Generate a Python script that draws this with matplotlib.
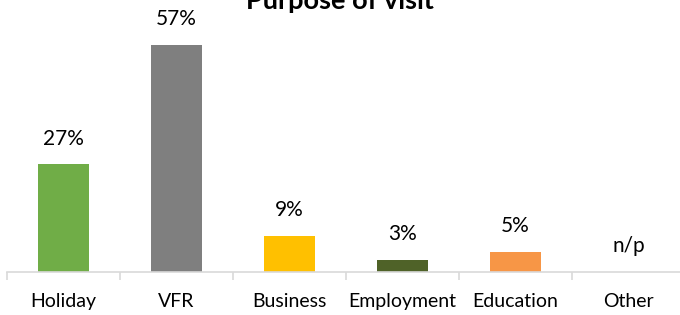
import matplotlib.pyplot as plt
import numpy as np

categories = ["Holiday", "VFR", "Business", "Employment", "Education", "Other"]
values = [27, 57, 9, 3, 5, 0]
labels = ["27%", "57%", "9%", "3%", "5%", "n/p"]
colors = ["#70AD47", "#7F7F7F", "#FFC000", "#4F6228", "#F79646", "#FFFFFF"]

plt.rcParams['font.family'] = ['Lato', 'DejaVu Sans']

fig = plt.figure(figsize=(6.8, 3.15), dpi=100)
ax = fig.add_axes([7 / 680, 43 / 315, 678 / 680, 239 / 315])

x = np.arange(len(categories))
ax.bar(x, values, width=0.46, color=colors)
for xi, v, lab in zip(x, values, labels):
    ax.annotate(lab, (xi, v), xytext=(0, 18.5), textcoords="offset points",
                ha="center", va="center", fontsize=15, color="#000000")

ax.set_xlim(-0.5, len(categories) - 0.5)
ax.set_ylim(0, 60)
ax.set_yticks([])
ax.set_xticks(x)
ax.set_xticklabels(categories, fontsize=14)
ax.set_xticks(np.arange(len(categories) + 1) - 0.5, minor=True)
ax.tick_params(axis="x", which="major", length=0, pad=15)
ax.tick_params(axis="x", which="minor", length=6, color="#D9D9D9", width=1.2)
for side in ["top", "right", "left"]:
    ax.spines[side].set_visible(False)
ax.spines["bottom"].set_color("#D9D9D9")
ax.spines["bottom"].set_linewidth(1.2)

fig.text(0.5, 1 - 9 / 315, "Purpose of visit", ha="center", va="baseline",
         fontsize=19.5, fontweight="bold")

fig.savefig("out.png", dpi=100)
